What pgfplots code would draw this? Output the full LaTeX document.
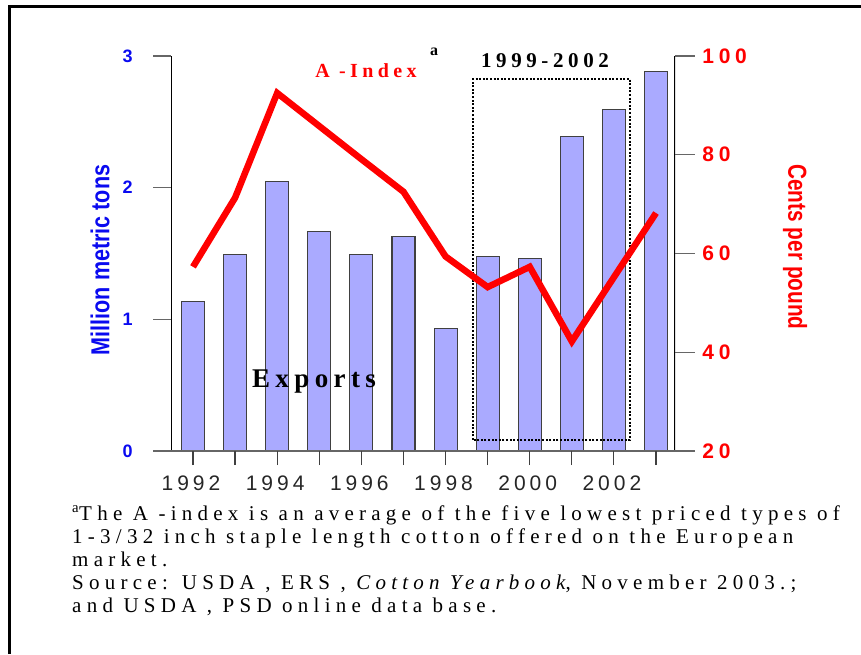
\documentclass[border=0pt]{standalone}
\usepackage{fontspec}
\setmainfont{Liberation Serif}
\newfontfamily\sansf{Liberation Sans}
\newfontfamily\xtickf[LetterSpace=19]{Liberation Sans}
\newfontfamily\rtickf[LetterSpace=22]{Liberation Sans}
\newfontfamily\spserif[LetterSpace=22]{Liberation Serif}
\newfontfamily\spserifb[LetterSpace=20]{Liberation Serif}
\newfontfamily\footf[LetterSpace=25]{Liberation Serif}
\usepackage{pgfplots}
\pgfplotsset{compat=1.18}
\definecolor{barfill}{RGB}{170,170,255}
\definecolor{myblue}{RGB}{10,10,240}
\definecolor{myred}{RGB}{255,0,0}
\pgfplotstableread{
year exports
1992 1.134
1993 1.49
1994 2.048
1995 1.665
1996 1.49
1997 1.63
1998 0.93
1999 1.475
2000 1.46
2001 2.39
2002 2.595
2003 2.885
}\exports
\pgfplotstableread{
year aindex
1992 57.3
1993 71.3
1994 92.5
1995 85.8
1996 79.1
1997 72.5
1998 59.4
1999 53.2
2000 57.3
2001 42.2
2002 55.2
2003 68.2
}\aindex
\pgfplotsset{
  common/.style={
    at={(171pt,203pt)}, anchor=south west,
    scale only axis, width=504pt, height=395pt,
    xmin=1991.477, xmax=2003.451,
    axis line style={draw=none},
    tick align=outside,
  }
}
\begin{document}
\begin{tikzpicture}[x=1pt,y=1pt]
\path[use as bounding box] (0,0) rectangle (861,654);
\draw[line width=3pt] (9.5,0) -- (9.5,647.5) -- (861,647.5);
% left axis with bars
\begin{axis}[common,
  ymin=0, ymax=3,
  xtick=\empty,
  ytick={0,1,2,3}, yticklabels={0,1,2,3},
  ytick pos=left,
  major tick length=18pt,
  y tick style={black!60, line width=1.2pt},
  yticklabel style={font=\sansf\bfseries\fontsize{18}{18}\selectfont, text=myblue, xshift=-17pt},
]
\addplot[ybar, bar width=23pt, fill=barfill, draw=black!75, line width=1.1pt] table[x=year,y=exports] {\exports};
\draw[black, line width=1.3pt] (rel axis cs:0,0) -- (rel axis cs:0,1);
\draw[black, line width=1.3pt] (rel axis cs:1,0) -- (rel axis cs:1,1);
\draw[black!60, line width=2pt] ([xshift=-18pt]rel axis cs:0,0) -- ([xshift=20pt]rel axis cs:1,0);
\draw[black, line width=2.2pt, dash pattern=on 2pt off 1.6pt] (axis cs:1998.65,0.084) rectangle (axis cs:2002.38,2.825);
\end{axis}
% x ticks
\begin{axis}[common,
  ymin=0, ymax=3,
  ytick=\empty,
  xtick={1992,...,2003},
  xticklabels={1992,,1994,,1996,,1998,,2000,,2002,},
  xtick pos=bottom,
  major tick length=14pt,
  x tick style={black!75, line width=1.2pt},
  xticklabel style={font=\xtickf\fontsize{21}{21}\selectfont, text=black!85, yshift=-7pt, xshift=-2pt},
]
\end{axis}
% right axis with A-index
\begin{axis}[common,
  ymin=20, ymax=100,
  xtick=\empty,
  ytick={20,40,60,80,100}, yticklabels={20,40,60,80,100},
  ytick pos=right,
  major tick length=20pt,
  y tick style={black!60, line width=1.2pt},
  yticklabel style={font=\rtickf\bfseries\fontsize{21}{21}\selectfont, text=myred, xshift=4pt},
]
\addplot[myred, line width=6.5pt, line join=miter] table[x=year,y=aindex] {\aindex};
\end{axis}
% axis titles
\node[rotate=90, text=myblue, font=\sansf\bfseries\fontsize{26}{26}\selectfont, inner sep=0] at (100,394) {\scalebox{0.83}[1]{Million metric tons}};
\node[rotate=-90, text=myred, font=\sansf\bfseries\fontsize{26}{26}\selectfont, inner sep=0] at (795,407) {\scalebox{0.8}[1]{Cents per pound}};
% annotations
\node[anchor=base, inner sep=0, font=\spserif\bfseries\fontsize{21}{21}\selectfont] at (545,586) {1999-2002};
\node[anchor=base, inner sep=0, text=myred, font=\spserif\bfseries\fontsize{20}{20}\selectfont] at (366,576) {A -Index};
\node[anchor=base, inner sep=0, font=\bfseries\fontsize{16}{16}\selectfont] at (434,598) {a};
\node[anchor=base, inner sep=0, font=\spserifb\bfseries\fontsize{27}{27}\selectfont] at (314,267) {Exports};
% footnote
\begin{scope}[every node/.style={anchor=base west, inner sep=0, font=\footf\fontsize{21}{23}\selectfont}]
\node at (72,134) {\textsuperscript{a}The A -index is an average of the five lowest priced types of};
\node at (72,111) {1-3/32 inch staple length cotton offered on the European};
\node at (72,88) {market.};
\node at (72,65) {Source: USDA , ERS , \textit{Cotton Yearbook}, November 2003.;};
\node at (72,42) {and USDA , PSD online data base.};
\end{scope}
\end{tikzpicture}
\end{document}
